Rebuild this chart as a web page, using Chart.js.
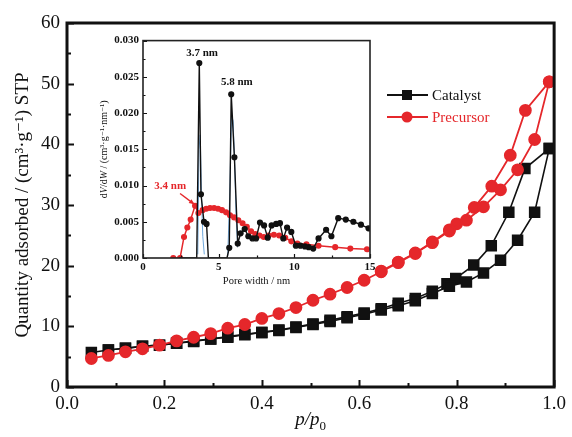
<!DOCTYPE html>
<html lang="en">
<head>
<meta charset="UTF-8">
<title>N2 isotherms and pore size distribution</title>
<script src="https://cdn.jsdelivr.net/npm/chart.js"></script>
<style>
    body { margin: 0; background: #ffffff; }
    #wrap { position: relative; width: 572px; height: 437px; }
    #mainChart { position: absolute; left: 0; top: 0; }
    #insetChart { position: absolute; left: 95px; top: 30px; }
</style>
</head>
<body>
<div id="wrap">
    <canvas id="mainChart" width="572" height="437"></canvas>
    <canvas id="insetChart" width="285" height="262"></canvas>
</div>
<script>
// ---- main isotherms: relative pressure p/p0 vs quantity adsorbed (cm3/g STP)
const catalystAdsP = [0.05, 0.085, 0.12, 0.155, 0.19, 0.225, 0.26, 0.295, 0.33, 0.365, 0.40, 0.435, 0.47, 0.505, 0.54, 0.575, 0.61, 0.645, 0.68, 0.715, 0.75, 0.785, 0.82, 0.855, 0.89, 0.925, 0.96, 0.99];
const catalystAdsQ = [5.7, 6.1, 6.4, 6.7, 6.9, 7.2, 7.5, 7.9, 8.2, 8.6, 9.0, 9.3, 9.8, 10.3, 10.8, 11.4, 12.0, 12.7, 13.4, 14.2, 15.4, 16.6, 17.3, 18.8, 20.9, 24.2, 28.8, 39.3];
const catalystDesP = [0.99, 0.94, 0.907, 0.871, 0.835, 0.798, 0.78, 0.75, 0.715, 0.68, 0.645, 0.61, 0.575, 0.54, 0.505, 0.47, 0.435, 0.40, 0.365, 0.33, 0.295, 0.26, 0.225, 0.19, 0.155, 0.12, 0.085];
const catalystDesQ = [39.3, 36.0, 28.8, 23.3, 20.1, 17.9, 17.0, 15.8, 14.6, 13.8, 12.9, 12.2, 11.6, 11.0, 10.4, 9.9, 9.4, 9.0, 8.7, 8.3, 7.9, 7.6, 7.2, 6.9, 6.7, 6.4, 6.1];

const precursorAdsP = [0.05, 0.085, 0.12, 0.155, 0.19, 0.225, 0.26, 0.295, 0.33, 0.365, 0.40, 0.435, 0.47, 0.505, 0.54, 0.575, 0.61, 0.645, 0.68, 0.715, 0.75, 0.785, 0.82, 0.855, 0.89, 0.925, 0.96, 0.99];
const precursorAdsQ = [4.7, 5.2, 5.8, 6.3, 6.9, 7.6, 8.2, 8.8, 9.7, 10.3, 11.3, 12.1, 13.1, 14.3, 15.3, 16.4, 17.6, 19.0, 20.5, 22.0, 23.8, 25.7, 27.5, 29.7, 32.5, 35.8, 40.8, 50.3];
const precursorDesP = [0.99, 0.941, 0.91, 0.872, 0.836, 0.80, 0.785, 0.75, 0.715, 0.68, 0.645];
const precursorDesQ = [50.3, 45.6, 38.2, 33.1, 29.6, 26.9, 25.9, 23.9, 22.1, 20.6, 19.1];

const qTicks = [0, 10, 20, 30, 40, 50, 60];
const qMinor = [5, 15, 25, 35, 45, 55];
const pTicks = [0, 0.2, 0.4, 0.6, 0.8, 1.0];
const pMinor = [0.1, 0.3, 0.5, 0.7, 0.9];

// ---- inset: pore width (nm) vs dV/dW
const catalystPoreW = [2.4, 3.55, 3.72, 3.83, 4.03, 4.2, 4.32, 5.0, 5.55, 5.7, 5.83, 6.04, 6.26, 6.45, 6.72, 6.96, 7.23, 7.47, 7.73, 8.0, 8.24, 8.5, 8.8, 9.05, 9.27, 9.52, 9.8, 10.1, 10.4, 10.7, 10.95, 11.25, 11.6, 12.1, 12.45, 12.9, 13.4, 13.9, 14.4, 14.9];
const catalystPoreV = [0, 0, 0.0269, 0.0088, 0.0050, 0.0047, 0, 0, 0, 0.0014, 0.0226, 0.0139, 0.0020, 0.0034, 0.0040, 0.0030, 0.0027, 0.0027, 0.0049, 0.0045, 0.0028, 0.0045, 0.0047, 0.0048, 0.0027, 0.0042, 0.0036, 0.0017, 0.0017, 0.0016, 0.0015, 0.0013, 0.0027, 0.0039, 0.0030, 0.0055, 0.0053, 0.0050, 0.0046, 0.0041];
const precursorPoreW = [2.0, 2.45, 2.71, 2.93, 3.15, 3.44, 3.66, 3.94, 4.18, 4.43, 4.7, 4.96, 5.22, 5.49, 5.75, 6.02, 6.3, 6.58, 6.86, 7.14, 7.42, 7.7, 7.98, 8.3, 8.65, 9.0, 9.4, 9.8, 10.2, 10.8, 11.6, 12.7, 13.7, 14.8];
const precursorPoreV = [0, 0, 0.0029, 0.0042, 0.0053, 0.0072, 0.0062, 0.0066, 0.0068, 0.0069, 0.0069, 0.0068, 0.0066, 0.0063, 0.0059, 0.0056, 0.0052, 0.0048, 0.0043, 0.0037, 0.0033, 0.0031, 0.0029, 0.0031, 0.0032, 0.0031, 0.0028, 0.0023, 0.0020, 0.0019, 0.0017, 0.0015, 0.0013, 0.0012];
// thin blue trace under the two catalyst peaks
const fitPoreW = [3.62, 3.7, 3.78, 3.86, 3.95, 4.05, null, 5.6, 5.72, 5.85, 5.95, 6.05, 6.15, 6.25];
const fitPoreV = [0.0005, 0.015, 0.017, 0.009, 0.003, 0.0005, null, 0.0003, 0.008, 0.0195, 0.019, 0.0135, 0.006, 0.0015];

const vTicks = [0, 0.005, 0.010, 0.015, 0.020, 0.025, 0.030];
const vMinor = [0.0025, 0.0075, 0.0125, 0.0175, 0.0225, 0.0275];
const wTicks = [0, 5, 10, 15];
const wMinor = [2.5, 7.5, 12.5];

const BLACK = '#111111';
const RED = '#e5272b';
const SERIF = "'Liberation Serif', 'Times New Roman', 'DejaVu Serif', serif";

function pts(xs, ys) {
    return xs.map((x, i) => (x === null ? { x: null, y: null } : { x: x, y: ys[i] }));
}

function inwardTicks(chart, axis, values, len, width) {
    const s = chart.scales[axis];
    const a = chart.chartArea;
    const ctx = chart.ctx;
    ctx.save();
    ctx.strokeStyle = BLACK;
    ctx.lineWidth = width;
    ctx.beginPath();
    values.forEach(v => {
        const p = Math.round(s.getPixelForValue(v)) + 0.5;
        if (axis === 'x') { ctx.moveTo(p, a.bottom); ctx.lineTo(p, a.bottom - len); }
        else { ctx.moveTo(a.left, p); ctx.lineTo(a.left + len, p); }
    });
    ctx.stroke();
    ctx.restore();
}

// text made of runs with mixed italic / subscript, centred at (cx, cy)
function drawRuns(ctx, runs, size, cx, cy, rotate, color) {
    ctx.save();
    ctx.translate(cx, cy);
    if (rotate) ctx.rotate(-Math.PI / 2);
    ctx.fillStyle = color;
    ctx.textBaseline = 'alphabetic';
    const fontOf = r => (r.i ? 'italic ' : '') + (r.sub ? Math.round(size * 0.68) : size) + 'px ' + SERIF;
    let total = 0;
    runs.forEach(r => { ctx.font = fontOf(r); r.w = ctx.measureText(r.t).width; total += r.w; });
    let x = -total / 2;
    runs.forEach(r => {
        ctx.font = fontOf(r);
        ctx.fillText(r.t, x, size * 0.35 + (r.sub ? size * 0.28 : 0));
        x += r.w;
    });
    ctx.restore();
}

const mainDeco = {
    id: 'mainDeco',
    afterDatasetsDraw(chart) {
        const ctx = chart.ctx;
        const a = chart.chartArea;
        inwardTicks(chart, 'y', qTicks, 7, 2);
        inwardTicks(chart, 'y', qMinor, 4, 2);
        inwardTicks(chart, 'x', pTicks, 7, 2);
        inwardTicks(chart, 'x', pMinor, 4, 2);
        ctx.save();
        ctx.strokeStyle = BLACK;
        ctx.lineWidth = 3;
        ctx.strokeRect(a.left, a.top, a.right - a.left, a.bottom - a.top);
        ctx.restore();

        // axis titles
        drawRuns(ctx, [{ t: 'Quantity adsorbed / (cm³·g⁻¹) STP' }], 19, 21.5, (a.top + a.bottom) / 2, true, BLACK);
        drawRuns(ctx, [{ t: 'p/p', i: true }, { t: '0', sub: true }], 19, (a.left + a.right) / 2, 418, false, BLACK);

        // legend
        const seen = [];
        chart.data.datasets.forEach(ds => {
            if (seen.find(s => s.label === ds.label)) return;
            seen.push(ds);
        });
        seen.sort((p, q) => (p.label === 'Catalyst' ? -1 : 1));
        seen.forEach((ds, i) => {
            const y = 95 + i * 22;
            ctx.save();
            ctx.strokeStyle = ds.borderColor;
            ctx.fillStyle = ds.borderColor;
            ctx.lineWidth = 2;
            ctx.beginPath();
            ctx.moveTo(387, y); ctx.lineTo(428, y);
            ctx.stroke();
            if (ds.pointStyle === 'rect') {
                ctx.fillRect(402, y - 5, 10, 10);
            } else {
                ctx.beginPath();
                ctx.arc(407, y, 5.5, 0, Math.PI * 2);
                ctx.fill();
            }
            ctx.font = '15px ' + SERIF;
            ctx.textBaseline = 'middle';
            ctx.fillText(ds.label, 432, y + 1);
            ctx.restore();
        });
    }
};

const catStyle = { borderColor: BLACK, backgroundColor: BLACK, pointStyle: 'rect', pointRadius: 7, borderWidth: 1.6 };
const preStyle = { borderColor: RED, backgroundColor: RED, pointStyle: 'circle', pointRadius: 5.5, borderWidth: 1.8 };

new Chart(document.getElementById('mainChart'), {
    type: 'line',
    data: {
        datasets: [
            Object.assign({ label: 'Precursor', data: pts(precursorAdsP, precursorAdsQ) }, preStyle),
            Object.assign({ label: 'Precursor', data: pts(precursorDesP, precursorDesQ) }, preStyle),
            Object.assign({ label: 'Catalyst', data: pts(catalystAdsP, catalystAdsQ) }, catStyle),
            Object.assign({ label: 'Catalyst', data: pts(catalystDesP, catalystDesQ) }, catStyle)
        ]
    },
    options: {
        responsive: false,
        animation: false,
        layout: { padding: { left: 0, top: 23, right: 12, bottom: 0 } },
        plugins: { legend: { display: false }, tooltip: { enabled: false } },
        scales: {
            x: {
                type: 'linear', min: 0, max: 1,
                afterFit: s => { s.height = 50; },
                afterBuildTicks: s => { s.ticks = pTicks.map(v => ({ value: v })); },
                grid: { display: false, drawTicks: false },
                border: { display: false },
                ticks: { padding: 6, color: BLACK, font: { family: SERIF, size: 19 }, callback: v => v.toFixed(1) }
            },
            y: {
                type: 'linear', min: 0, max: 60,
                afterFit: s => { s.width = 67; },
                afterBuildTicks: s => { s.ticks = qTicks.map(v => ({ value: v })); },
                grid: { display: false, drawTicks: false },
                border: { display: false },
                ticks: { padding: 7, color: BLACK, font: { family: SERIF, size: 19 } }
            }
        }
    },
    plugins: [mainDeco]
});

// ---- inset
const insetDeco = {
    id: 'insetDeco',
    beforeDatasetsDraw(chart) {
        const a = chart.chartArea;
        chart.ctx.save();
        chart.ctx.fillStyle = '#ffffff';
        chart.ctx.fillRect(a.left, a.top, a.right - a.left, a.bottom - a.top);
        chart.ctx.restore();
    },
    afterDatasetsDraw(chart) {
        const ctx = chart.ctx;
        const a = chart.chartArea;
        const xs = chart.scales.x, ys = chart.scales.y;
        inwardTicks(chart, 'y', vTicks, 4, 1.2);
        inwardTicks(chart, 'y', vMinor, 2.5, 1.2);
        inwardTicks(chart, 'x', wTicks, 4, 1.2);
        inwardTicks(chart, 'x', wMinor, 2.5, 1.2);
        ctx.save();
        ctx.strokeStyle = '#222222';
        ctx.lineWidth = 1.6;
        ctx.strokeRect(a.left, a.top, a.right - a.left, a.bottom - a.top);

        // peak labels
        ctx.font = 'bold 11px ' + SERIF;
        ctx.textAlign = 'center';
        ctx.textBaseline = 'middle';
        ctx.fillStyle = BLACK;
        ctx.fillText('3.7 nm', xs.getPixelForValue(3.9), ys.getPixelForValue(0.0282));
        ctx.fillText('5.8 nm', xs.getPixelForValue(6.2), ys.getPixelForValue(0.0242));
        ctx.fillStyle = RED;
        ctx.fillText('3.4 nm', xs.getPixelForValue(1.8), ys.getPixelForValue(0.0099));
        // arrow to the 3.4 nm maximum
        const x0 = xs.getPixelForValue(2.45), y0 = ys.getPixelForValue(0.0089);
        const x1 = xs.getPixelForValue(3.4), y1 = ys.getPixelForValue(0.0074);
        ctx.strokeStyle = RED;
        ctx.lineWidth = 1.4;
        ctx.beginPath();
        ctx.moveTo(x0, y0); ctx.lineTo(x1, y1);
        ctx.stroke();
        const ang = Math.atan2(y1 - y0, x1 - x0);
        ctx.beginPath();
        ctx.moveTo(x1, y1);
        ctx.lineTo(x1 - 6 * Math.cos(ang - 0.4), y1 - 6 * Math.sin(ang - 0.4));
        ctx.lineTo(x1 - 6 * Math.cos(ang + 0.4), y1 - 6 * Math.sin(ang + 0.4));
        ctx.closePath();
        ctx.fill();
        ctx.restore();

        drawRuns(ctx, [{ t: 'd' }, { t: 'V', i: true }, { t: '/d' }, { t: 'W', i: true }, { t: ' / (cm³·g⁻¹·nm⁻¹)' }], 10, 8, (a.top + a.bottom) / 2, true, BLACK);
        drawRuns(ctx, [{ t: 'Pore width / nm' }], 10.5, (a.left + a.right) / 2, a.bottom + 22, false, BLACK);
    }
};

new Chart(document.getElementById('insetChart'), {
    type: 'line',
    data: {
        datasets: [
            { label: 'Catalyst', data: pts(catalystPoreW, catalystPoreV), borderColor: BLACK, backgroundColor: BLACK,
              borderWidth: 1.4, pointRadius: c => (c.raw && c.raw.y === 0 ? 0 : 2.4), order: 1 },
            { label: 'Precursor', data: pts(precursorPoreW, precursorPoreV), borderColor: RED, backgroundColor: RED,
              borderWidth: 1.5, pointRadius: 2.3, order: 2 },
            { label: 'fit', data: pts(fitPoreW, fitPoreV), borderColor: '#6fa8dc', borderWidth: 1,
              pointRadius: 0, spanGaps: false, order: 3 }
        ]
    },
    options: {
        responsive: false,
        animation: false,
        layout: { padding: { left: 0, top: 10, right: 10, bottom: 0 } },
        plugins: { legend: { display: false }, tooltip: { enabled: false } },
        scales: {
            x: {
                type: 'linear', min: 0, max: 15,
                afterFit: s => { s.height = 34; },
                afterBuildTicks: s => { s.ticks = wTicks.map(v => ({ value: v })); },
                grid: { display: false, drawTicks: false },
                border: { display: false },
                ticks: { padding: 3, color: BLACK, font: { family: SERIF, size: 11, weight: 'bold' } }
            },
            y: {
                type: 'linear', min: 0, max: 0.03,
                afterFit: s => { s.width = 48; },
                afterBuildTicks: s => { s.ticks = vTicks.map(v => ({ value: v })); },
                grid: { display: false, drawTicks: false },
                border: { display: false },
                ticks: { padding: 4, color: BLACK, font: { family: SERIF, size: 11, weight: 'bold' }, callback: v => v.toFixed(3) }
            }
        }
    },
    plugins: [insetDeco]
});
</script>
</body>
</html>
